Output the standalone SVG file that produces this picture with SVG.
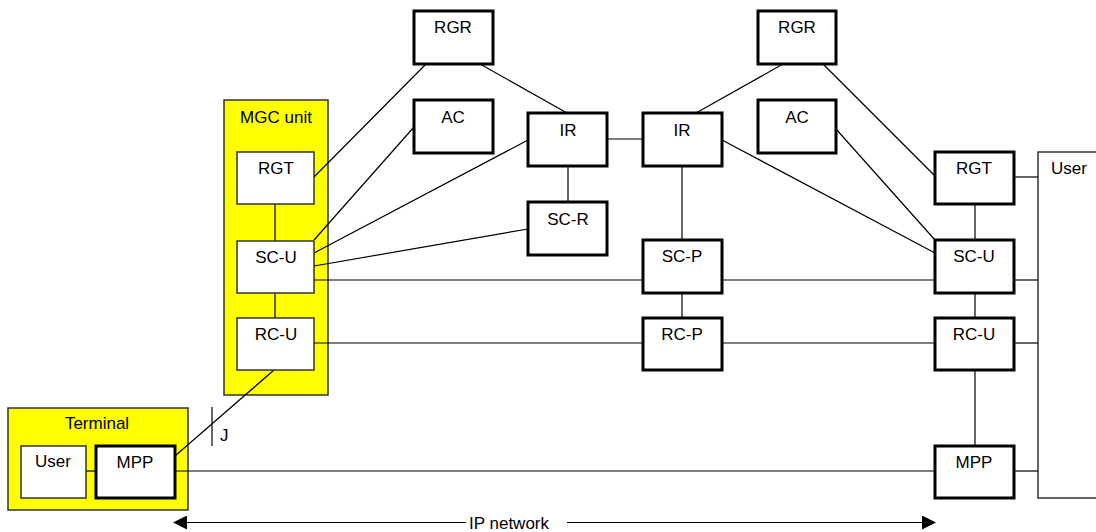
<svg xmlns="http://www.w3.org/2000/svg" width="1096" height="532" viewBox="0 0 1096 532">
<defs>
<style>
text{font-family:"Liberation Sans",Arial,sans-serif;font-size:17px;fill:#000}
.c{text-anchor:middle}
.thick{fill:#fff;stroke:#000;stroke-width:3}
.thin{fill:#fff;stroke:#333;stroke-width:1.5}
.yel{fill:#ffff00;stroke:#333;stroke-width:1.5}
.ln{stroke:#000;stroke-width:1.2;fill:none}
</style>
<marker id="ah" viewBox="0 0 14 14" refX="13" refY="7" markerWidth="14" markerHeight="14" markerUnits="userSpaceOnUse" orient="auto-start-reverse">
<path d="M0,0 L14,7 L0,14 Z" fill="#000"/>
</marker>
</defs>
<rect width="1096" height="532" fill="#fff"/>

<g id="mgc-unit">
<rect class="yel" x="224" y="100" width="104" height="295"/>
<text class="c" x="276" y="123">MGC unit</text>
</g>
<g id="terminal">
<rect class="yel" x="8" y="408" width="180" height="102"/>
<text class="c" x="97" y="429">Terminal</text>
</g>
<g id="user-right">
<rect class="thin" x="1038" y="152" width="70" height="346"/>
<text x="1051" y="174">User</text>
</g>

<g id="connectors">
<line class="ln" x1="275" y1="204" x2="275" y2="241"/>
<line class="ln" x1="275" y1="293" x2="275" y2="318"/>
<line class="ln" x1="274" y1="370" x2="175" y2="456"/>
<line class="ln" x1="86" y1="471" x2="96" y2="471"/>
<line class="ln" x1="175" y1="471" x2="935" y2="471"/>
<line class="ln" x1="1014" y1="471" x2="1038" y2="471"/>
<line class="ln" x1="212" y1="407" x2="212" y2="446"/>
<line class="ln" x1="426" y1="64" x2="314" y2="177"/>
<line class="ln" x1="480" y1="64" x2="567" y2="113"/>
<line class="ln" x1="414" y1="127" x2="314" y2="240"/>
<line class="ln" x1="528" y1="140" x2="314" y2="253"/>
<line class="ln" x1="528" y1="229" x2="314" y2="266"/>
<line class="ln" x1="607" y1="139" x2="643" y2="139"/>
<line class="ln" x1="568" y1="166" x2="568" y2="202"/>
<line class="ln" x1="682" y1="166" x2="682" y2="240"/>
<line class="ln" x1="682" y1="293" x2="682" y2="318"/>
<line class="ln" x1="783" y1="64" x2="696" y2="113"/>
<line class="ln" x1="823" y1="64" x2="935" y2="176"/>
<line class="ln" x1="836" y1="129" x2="935" y2="240"/>
<line class="ln" x1="722" y1="140" x2="935" y2="253"/>
<line class="ln" x1="1014" y1="177" x2="1038" y2="177"/>
<line class="ln" x1="975" y1="204" x2="975" y2="240"/>
<line class="ln" x1="975" y1="293" x2="975" y2="318"/>
<line class="ln" x1="975" y1="370" x2="975" y2="446"/>
<line class="ln" x1="314" y1="280" x2="643" y2="280"/>
<line class="ln" x1="722" y1="280" x2="935" y2="280"/>
<line class="ln" x1="1014" y1="280" x2="1038" y2="280"/>
<line class="ln" x1="314" y1="343" x2="643" y2="343"/>
<line class="ln" x1="722" y1="343" x2="935" y2="343"/>
<line class="ln" x1="1014" y1="343" x2="1038" y2="343"/>
<line class="ln" x1="174" y1="522.5" x2="466" y2="522.5" marker-start="url(#ah)"/>
<line class="ln" x1="567" y1="522.5" x2="935" y2="522.5" marker-end="url(#ah)"/>
</g>

<g id="rgt-l"><rect class="thin" x="237" y="152" width="77" height="52"/><text class="c" x="276" y="174">RGT</text></g>
<g id="scu-l"><rect class="thin" x="237" y="241" width="77" height="52"/><text class="c" x="276" y="263">SC-U</text></g>
<g id="rcu-l"><rect class="thin" x="237" y="318" width="77" height="52"/><text class="c" x="276" y="340">RC-U</text></g>
<g id="user-l"><rect class="thin" x="21" y="446" width="65" height="52"/><text class="c" x="53" y="467">User</text></g>
<g id="mpp-l"><rect class="thick" x="96" y="446" width="79" height="52"/><text class="c" x="135" y="468">MPP</text></g>
<text id="j" x="220" y="441">J</text>

<g id="rgr-l"><rect class="thick" x="414" y="11" width="79" height="53"/><text class="c" x="453" y="33">RGR</text></g>
<g id="ac-l"><rect class="thick" x="414" y="100" width="79" height="53"/><text class="c" x="453" y="123">AC</text></g>
<g id="ir-l"><rect class="thick" x="528" y="113" width="79" height="53"/><text class="c" x="568" y="136">IR</text></g>
<g id="ir-r"><rect class="thick" x="643" y="113" width="79" height="53"/><text class="c" x="682" y="136">IR</text></g>
<g id="sc-r"><rect class="thick" x="528" y="202" width="79" height="53"/><text class="c" x="568" y="225">SC-R</text></g>
<g id="sc-p"><rect class="thick" x="643" y="240" width="79" height="53"/><text class="c" x="682" y="262">SC-P</text></g>
<g id="rc-p"><rect class="thick" x="643" y="318" width="79" height="52"/><text class="c" x="682" y="340">RC-P</text></g>
<g id="rgr-r"><rect class="thick" x="758" y="11" width="78" height="53"/><text class="c" x="797" y="33">RGR</text></g>
<g id="ac-r"><rect class="thick" x="758" y="100" width="78" height="53"/><text class="c" x="797" y="123">AC</text></g>
<g id="rgt-r"><rect class="thick" x="935" y="152" width="79" height="52"/><text class="c" x="974" y="174">RGT</text></g>
<g id="scu-r"><rect class="thick" x="935" y="240" width="79" height="53"/><text class="c" x="974" y="262">SC-U</text></g>
<g id="rcu-r"><rect class="thick" x="935" y="318" width="79" height="52"/><text class="c" x="974" y="340">RC-U</text></g>
<g id="mpp-r"><rect class="thick" x="935" y="446" width="79" height="52"/><text class="c" x="974" y="468">MPP</text></g>

<text id="ip" x="469" y="529">IP network</text>
</svg>
